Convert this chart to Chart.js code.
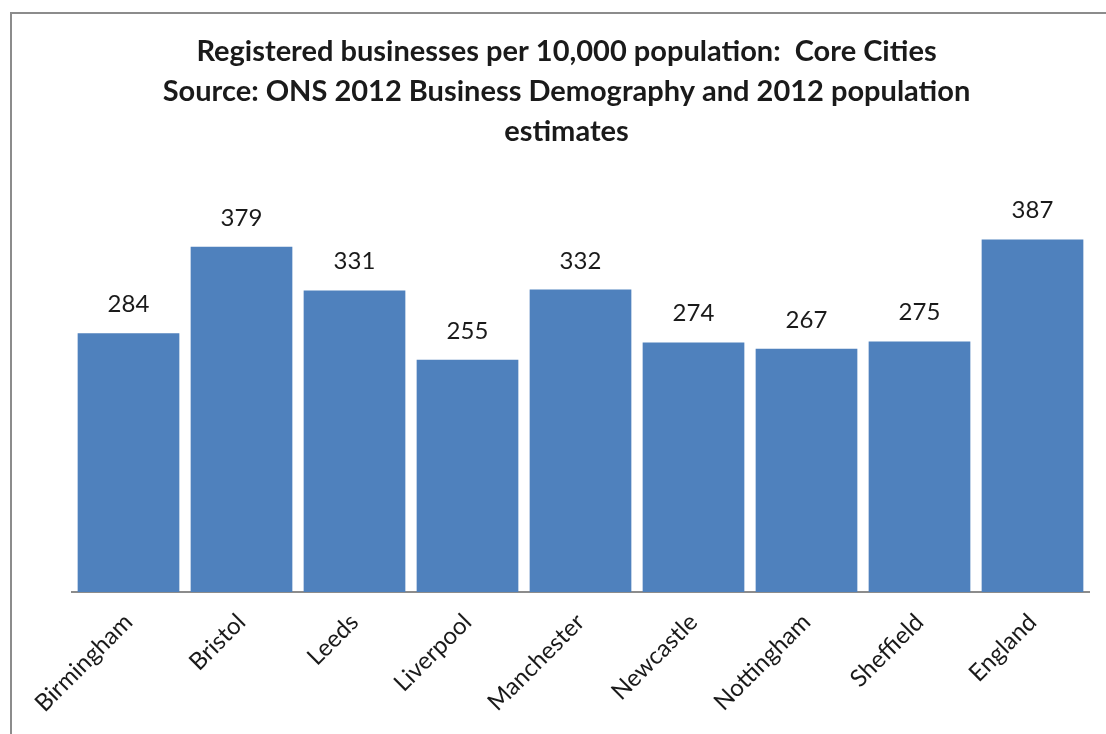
<!DOCTYPE html>
<html>
<head>
<meta charset="utf-8">
<script src="https://cdn.jsdelivr.net/npm/chart.js@4"></script>
<style>
  html, body { margin: 0; padding: 0; background: #fff; }
  #wrap { position: relative; width: 1106px; height: 734px; overflow: hidden; }
  /* chart frame, only the top and left edges are in view */
  #frame { position: absolute; left: 10px; top: 12px; width: 1200px; height: 800px;
           border: 2px solid #8c8c8c; box-sizing: border-box; }
  #chart { position: absolute; left: 0; top: 0; }
</style>
</head>
<body>
<div id="wrap">
  <div id="frame"></div>
  <canvas id="chart" width="1106" height="734"></canvas>
</div>
<script>
// businesses per 10,000 population
const cities = ['Birmingham', 'Bristol', 'Leeds', 'Liverpool', 'Manchester', 'Newcastle', 'Nottingham', 'Sheffield', 'England'];
const perTenThousand = [284, 379, 331, 255, 332, 274, 267, 275, 387];
const titleLines = [
  'Registered businesses per 10,000 population:  Core Cities',
  'Source: ONS 2012 Business Demography and 2012 population',
  'estimates'
];

// numbers above each bar
const valueLabels = {
  id: 'valueLabels',
  afterDatasetsDraw(chart) {
    const ctx = chart.ctx;
    const meta = chart.getDatasetMeta(0);
    ctx.save();
    ctx.font = '24px Lato';
    ctx.fillStyle = '#1a1a1a';
    ctx.textAlign = 'center';
    ctx.textBaseline = 'alphabetic';
    meta.data.forEach((bar, i) => {
      ctx.fillText(String(perTenThousand[i]), bar.x, bar.y - 21);
    });
    ctx.restore();
  }
};

const ctx = document.getElementById('chart').getContext('2d');
const barChart = new Chart(ctx, {
  type: 'bar',
  data: {
    labels: cities,
    datasets: [{
      data: perTenThousand,
      backgroundColor: '#4F81BD',
      barPercentage: 0.9,
      categoryPercentage: 1.0
    }]
  },
  options: {
    responsive: false,
    animation: false,
    layout: { padding: { left: 44, right: 17, top: 32, bottom: 0 } },
    plugins: {
      legend: { display: false },
      tooltip: { enabled: false },
      title: {
        display: true,
        text: titleLines,
        color: '#1a1a1a',
        font: { family: 'Lato', size: 29, weight: 'bold', lineHeight: 1.38 },
        padding: { top: 0, bottom: 30 }
      }
    },
    scales: {
      x: {
        grid: { display: false, drawTicks: false },
        border: { color: '#8c8c8c', width: 2 },
        ticks: {
          color: '#1a1a1a',
          font: { family: 'Lato', size: 24 },
          minRotation: 45,
          maxRotation: 45,
          padding: 16
        },
        afterFit(scale) { scale.height = 142; }
      },
      y: {
        // hidden axis that only keeps space on the left
        display: true,
        grid: { display: false, drawTicks: false },
        border: { display: false },
        ticks: { display: false },
        min: 0,
        max: 450,
        afterFit(scale) { scale.width = 28; }
      }
    }
  },
  plugins: [valueLabels]
});
</script>
</body>
</html>
